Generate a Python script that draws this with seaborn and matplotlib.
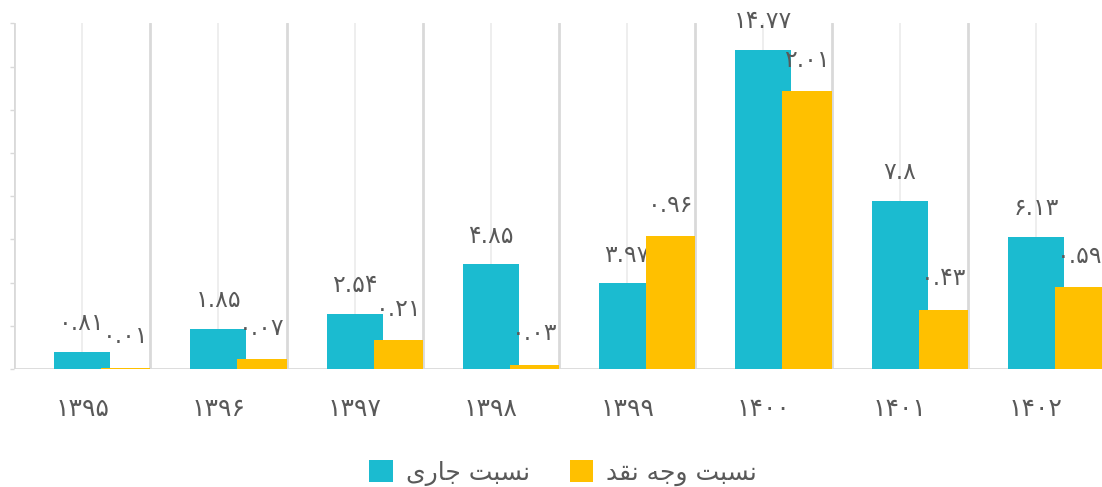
import numpy as np
import pandas as pd
import matplotlib
matplotlib.use("Agg")
import matplotlib.pyplot as plt
from matplotlib.patches import Patch
import seaborn as sns

# ---- data ----
years = ["1395", "1396", "1397", "1398", "1399", "1400", "1401", "1402"]
current_ratio = [0.81, 1.85, 2.54, 4.85, 3.97, 14.77, 7.8, 6.13]
cash_ratio = [0.01, 0.07, 0.21, 0.03, 0.96, 2.01, 0.43, 0.59]
series_names = ["نسبت جاری", "نسبت وجه نقد"]

TEAL = "#1BBBD0"
GOLD = "#FFC000"
TXT = "#595959"
GRID_LIGHT = "#EDEDED"
GRID_DARK = "#D9D9D9"

FA_DIGITS = str.maketrans("0123456789", "۰۱۲۳۴۵۶۷۸۹")


def fa(s):
    return str(s).translate(FA_DIGITS)


# minimal Persian shaping (presentation forms + visual order)
FORMS = {
    '\u0627': ('\uFE8D', '\uFE8E', None, None),
    '\u0628': ('\uFE8F', '\uFE90', '\uFE91', '\uFE92'),
    '\u062A': ('\uFE95', '\uFE96', '\uFE97', '\uFE98'),
    '\u062C': ('\uFE9D', '\uFE9E', '\uFE9F', '\uFEA0'),
    '\u062F': ('\uFEA9', '\uFEAA', None, None),
    '\u0631': ('\uFEAD', '\uFEAE', None, None),
    '\u0633': ('\uFEB1', '\uFEB2', '\uFEB3', '\uFEB4'),
    '\u0642': ('\uFED5', '\uFED6', '\uFED7', '\uFED8'),
    '\u0646': ('\uFEE5', '\uFEE6', '\uFEE7', '\uFEE8'),
    '\u0647': ('\uFEE9', '\uFEEA', '\uFEEB', '\uFEEC'),
    '\u0648': ('\uFEED', '\uFEEE', None, None),
    '\u06CC': ('\uFBFC', '\uFBFD', '\uFBFE', '\uFBFF'),
}


def shape(text):
    out = []
    for i, ch in enumerate(text):
        if ch not in FORMS:
            out.append(ch)
            continue
        prev = text[i - 1] if i > 0 else None
        nxt = text[i + 1] if i + 1 < len(text) else None
        jp = prev in FORMS and FORMS[prev][2] is not None
        jn = nxt in FORMS and FORMS[ch][2] is not None
        iso, fin, ini, med = FORMS[ch]
        if jp and jn:
            f = med
        elif jp:
            f = fin
        elif jn:
            f = ini
        else:
            f = iso
        out.append(f)
    return ''.join(reversed(out))


sns.set_style("white")
plt.rcParams['font.family'] = ['DejaVu Sans']

pos = np.arange(len(years))
df1 = pd.DataFrame({"x": pos, "v": current_ratio})
df2 = pd.DataFrame({"x": pos + 0.32, "v": cash_ratio})

fig = plt.figure(figsize=(11.02, 4.87), dpi=100)
ax = fig.add_axes([14 / 1102, (487 - 369) / 487, 1090 / 1102, 345.6 / 487])
ax2 = ax.twinx()

# grid lines
for b in np.arange(-0.5, len(years) + 0.5, 1.0):
    ax.axvline(b, color=GRID_DARK, lw=2.0, zorder=0.5)
for c in pos:
    ax.axvline(c, color=GRID_LIGHT, lw=1.3, zorder=0.4)
ax.axhline(0, color=GRID_DARK, lw=2.0, zorder=0.6)

sns.barplot(data=df1, x="x", y="v", native_scale=True, width=0.41,
            color=TEAL, saturation=1, errorbar=None, ax=ax, zorder=2,
            linewidth=0, edgecolor='none')
sns.barplot(data=df2, x="x", y="v", native_scale=True, width=0.36,
            color=GOLD, saturation=1, errorbar=None, ax=ax2, zorder=2,
            linewidth=0, edgecolor='none')

ax.set_xlim(-0.5, len(years) - 0.5)
ax2.set_xlim(-0.5, len(years) - 0.5)
ax.set_ylim(0, 16)
ax2.set_ylim(0, 2.5)

ax.bar_label(ax.containers[0], labels=[fa(f"{v:g}") for v in current_ratio],
             padding=12, fontsize=17, color=TXT)
ax2.bar_label(ax2.containers[0], labels=[fa(f"{v:g}") for v in cash_ratio],
              padding=14, fontsize=17, color=TXT)

ax.set_xticks(pos)
ax.set_xticklabels([fa(y) for y in years], fontsize=18, color=TXT)
ax.tick_params(axis='x', length=0, pad=20)
ax.set_yticks(np.arange(0, 17, 2))
ax.set_yticklabels([])
ax.tick_params(axis='y', length=3, width=1, color=GRID_DARK, direction='out')
ax2.set_yticks([])
ax.set_xlabel("")
ax.set_ylabel("")
ax2.set_xlabel("")
ax2.set_ylabel("")
for a in (ax, ax2):
    for s in a.spines.values():
        s.set_visible(False)

handles = [Patch(facecolor=TEAL, edgecolor='none'), Patch(facecolor=GOLD, edgecolor='none')]
fig.legend(handles, [shape(n) for n in series_names], loc='center',
           bbox_to_anchor=(563 / 1102, 1 - 473 / 487), ncol=2, frameon=False,
           fontsize=18, handlelength=0.95, handleheight=0.95, handletextpad=0.5,
           columnspacing=1.6, labelcolor=TXT)

fig.savefig("out.png", dpi=100)
